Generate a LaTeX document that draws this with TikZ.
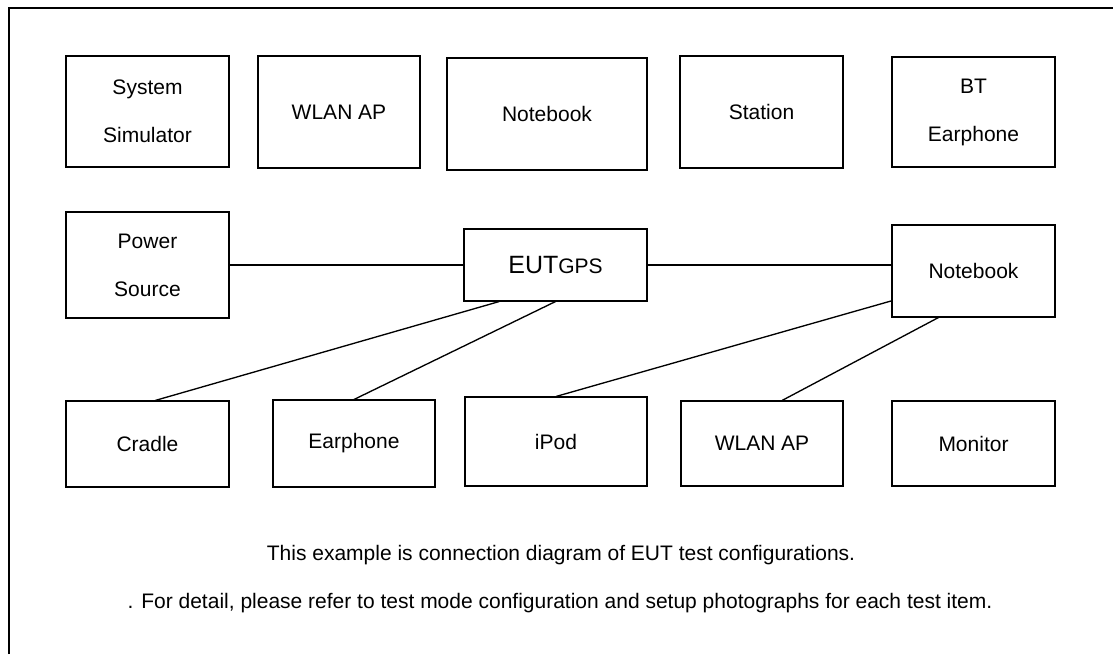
\documentclass[tikz,border=0pt]{standalone}
\usepackage{fontspec}
\setmainfont{Liberation Sans}

\begin{document}
\begin{tikzpicture}[x=0.75pt, y=-0.75pt,
        box/.style 2 args={draw=black, line width=0.8pt, minimum width=#1*0.75pt,
            minimum height=#2*0.75pt, inner sep=0pt, align=center,
            font=\fontsize{15.75}{36}\selectfont},
        wire/.style={draw=black, line width=1pt},
        note/.style={font=\fontsize{15.75}{18}\selectfont}]
        \useasboundingbox (0,0) rectangle (1113,654);
        % draw frame
        \path[draw=black, line width=1.6pt] (9,654) -- (9,8) -- (1113,8);
        % top row of units
        \node[box={163}{111}] (sim) at (147.5,111.5) {System\\Simulator};
        \node[box={162}{112}] (wlan1) at (339,112) {WLAN AP};
        \node[box={200}{112}] (nb1) at (547,114) {Notebook};
        \node[box={163}{112}] (station) at (761.5,112) {Station};
        \node[box={163}{110}] (bt) at (973.5,112) {BT\\Earphone};
        % middle row
        \node[box={163}{106}] (power) at (147.5,265) {Power\\Source};
        \node[box={183}{72}] (eut) at (555.5,265) {{\fontsize{18.75}{22}\selectfont EUT}GPS};
        \node[box={163}{92}] (nb2) at (973.5,271) {Notebook};
        % bottom row
        \node[box={163}{86}] (cradle) at (147.5,444) {Cradle};
        \node[box={162}{87}] (earphone) at (354,443.5) {Earphone};
        \node[box={182}{89}] (ipod) at (556,441.5) {iPod};
        \node[box={162}{85}] (wlan2) at (762,443.5) {WLAN AP};
        \node[box={163}{85}] (monitor) at (973.5,443.5) {Monitor};
        % cables
        \draw[wire] (power) -- (eut);
        \draw[wire] (eut) -- (eut -| nb2.west);
        \draw[wire] (cradle.80) -- (eut.213);
        \draw[wire] (earphone.north) -- (eut.south);
        \draw[wire] (ipod.north) -- (nb2.200);
        \draw[wire] (wlan2.65) -- (nb2.233);
        % add notes
        \node[note] (note1) at (561,555) {This example is connection diagram of EUT test configurations.};
        \node[note] (note2) at (560,603) {. For detail, please refer to test mode configuration and setup photographs for each test item.};
\end{tikzpicture}
\end{document}
